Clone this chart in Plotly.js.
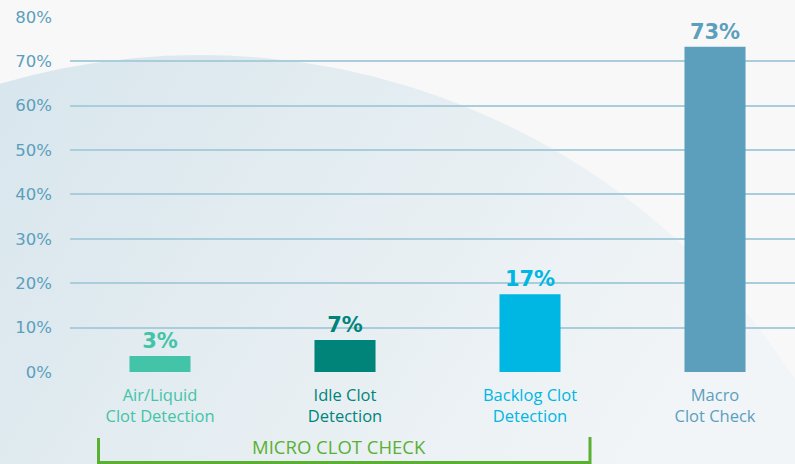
<!DOCTYPE html>
<html>
<head>
<meta charset="utf-8">
<script src="https://cdn.plot.ly/plotly-3.0.1.min.js"></script>
<style>html,body{margin:0;padding:0;background:#f8f8f8;}#chart{width:795px;height:464px;}</style>
</head>
<body>
<div id="chart"></div>
<script>
const categories = ['Air/Liquid Clot Detection', 'Idle Clot Detection', 'Backlog Clot Detection', 'Macro Clot Check'];
const tickLines = [['Air/Liquid', 'Clot Detection'], ['Idle Clot', 'Detection'], ['Backlog Clot', 'Detection'], ['Macro', 'Clot Check']];
const values = [3.6, 7.2, 17.5, 73.3];
const valueLabels = ['3%', '7%', '17%', '73%'];
const barColors = ['#43c4a8', '#00847a', '#00b6e3', '#5b9fbd'];
const yTickVals = [0, 10, 20, 30, 40, 50, 60, 70, 80];
const yTickText = ['0%', '10%', '20%', '30%', '40%', '50%', '60%', '70%', '80%'];
const groupLabel = 'MICRO CLOT CHECK';

const ticktext = tickLines.map((l, i) => l.map(s => `<span style="color:${barColors[i]}">${s}</span>`).join('<br>'));

const trace = {
  type: 'bar',
  x: categories,
  y: values,
  width: 0.33,
  marker: {color: barColors},
  text: valueLabels,
  textposition: 'outside',
  cliponaxis: false,
  textfont: {family: 'DejaVu Sans', size: 21, weight: 'bold', color: barColors},
  hoverinfo: 'skip'
};

// pixel -> paper helpers (plot area x: 70..795, y: 16..372)
const px = v => (v - 70) / 725;
const py = v => (372 - v) / 356;

// decorative background arc with soft gradient
const bgSvg = `<svg xmlns="http://www.w3.org/2000/svg" width="795" height="464" viewBox="0 0 795 464">
<defs><linearGradient id="g" gradientUnits="userSpaceOnUse" x1="0" y1="50" x2="650" y2="470">
<stop offset="0" stop-color="#d8e6ed"/><stop offset="1" stop-color="#f2f5f7"/></linearGradient></defs>
<circle cx="200" cy="763" r="708" fill="url(#g)"/></svg>`;
const bgUri = 'data:image/svg+xml;charset=utf-8,' + encodeURIComponent(bgSvg);

const layout = {
  width: 795, height: 464,
  margin: {l: 70, r: 0, t: 16, b: 92},
  paper_bgcolor: '#f8f8f8',
  plot_bgcolor: 'rgba(0,0,0,0)',
  showlegend: false,
  xaxis: {
    type: 'category',
    range: [-0.4865, 3.4324],
    tickvals: categories,
    ticktext: ticktext,
    tickfont: {family: 'Open Sans', size: 16.5},
    showgrid: false, zeroline: false, showline: false,
    ticks: '', ticklabelstandoff: 11
  },
  yaxis: {
    range: [0, 80.2],
    tickvals: yTickVals,
    ticktext: yTickText,
    tickfont: {family: 'DejaVu Sans', size: 16.5, color: '#5b9fbd'},
    gridcolor: '#a9cddb', gridwidth: 2,
    zeroline: false, showline: false,
    ticks: '', ticklabelstandoff: 17
  },
  images: [
    {source: bgUri, xref: 'paper', yref: 'paper', x: px(0), y: py(0),
     sizex: 795 / 725, sizey: 464 / 356, xanchor: 'left', yanchor: 'top',
     sizing: 'stretch', layer: 'below'}
  ],
  shapes: [
    {type: 'path', xref: 'paper', yref: 'paper', layer: 'above',
     path: `M ${px(98.5)} ${py(438)} L ${px(98.5)} ${py(462.5)} L ${px(590)} ${py(462.5)} L ${px(590)} ${py(437)}`,
     line: {color: '#5ab031', width: 3}}
  ],
  annotations: [
    {xref: 'paper', yref: 'paper', x: px(339), y: py(446), text: groupLabel, showarrow: false,
     font: {family: 'Open Sans', size: 18.5, color: '#5ab031'}, xanchor: 'center', yanchor: 'middle'}
  ]
};

Plotly.newPlot('chart', [trace], layout, {staticPlot: true, displayModeBar: false});
</script>
</body>
</html>
